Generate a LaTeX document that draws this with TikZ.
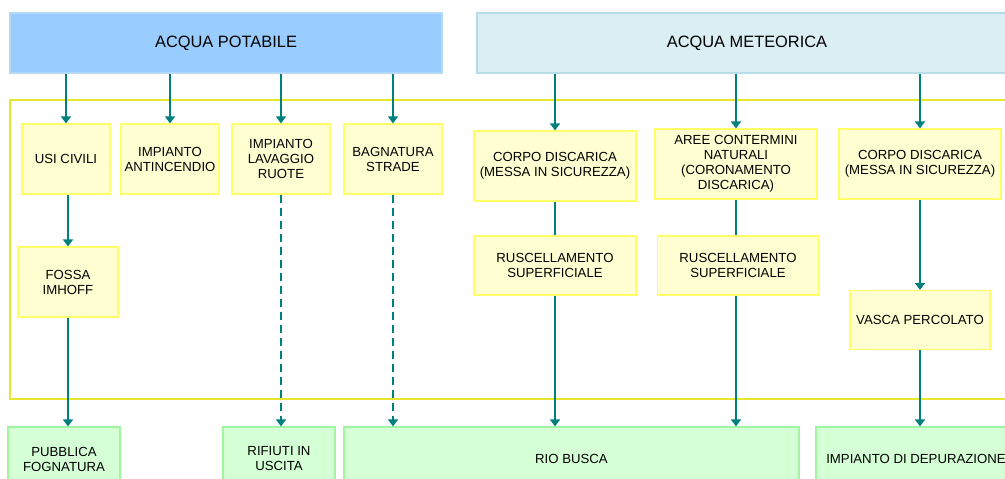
\documentclass[tikz,border=0pt]{standalone}
\usepackage{fontspec}
\setmainfont{Liberation Sans}
\usepackage{tikz}
\usetikzlibrary{arrows.meta}
\definecolor{potfill}{HTML}{99CCFF}
\definecolor{potline}{HTML}{B4DAF8}
\definecolor{metfill}{HTML}{DAEEF3}
\definecolor{metline}{HTML}{B7DEE8}
\definecolor{boxfill}{HTML}{FFFFD2}
\definecolor{boxline}{HTML}{FFFF66}
\definecolor{outfill}{HTML}{D5FFD5}
\definecolor{outdraw}{HTML}{A0F5A0}
\definecolor{frameline}{HTML}{E6E62E}
\definecolor{flowcol}{HTML}{007F7F}
\tikzset{
	source/.style={line width=1.2pt, align=center, inner sep=0pt, minimum height=60pt, font=\fontsize{16.4}{19}\selectfont},
	inbox/.style={draw=boxline, fill=boxfill, line width=1.2pt, align=center, inner sep=0pt, font=\fontsize{13.2}{15}\selectfont},
	outbox/.style={draw=outdraw, fill=outfill, line width=1.2pt, align=center, inner sep=0pt, minimum height=64pt, font=\fontsize{13.2}{15}\selectfont},
	flow/.style={draw=flowcol, line width=2pt},
	waste/.style={flow, dash pattern=on 8pt off 5pt}
}
\begin{document}
\begin{tikzpicture}[x=1pt, y=-1pt, >={Triangle[width=10pt,length=7pt]}]
	\clip (0,0) rectangle (1005,479);
	%\draw [help lines] (0,0) grid [step=50] (1005,479);
	\draw [frameline, line width=2pt] (10,100) rectangle (1020,399);
	% sorgenti
	\node [source, draw=potline, fill=potfill, minimum width=432pt] (pot) at (226,43) {ACQUA POTABILE};
	\node [source, draw=metline, fill=metfill, minimum width=540pt] (met) at (747,43) {ACQUA METEORICA};
	% utilizzi
	\node [inbox, minimum width=88pt, minimum height=70pt] (usi) at (66,159) {USI CIVILI};
	\node [inbox, minimum width=98pt, minimum height=70pt] (anti) at (170,159) {IMPIANTO\\ANTINCENDIO};
	\node [inbox, minimum width=98pt, minimum height=70pt] (lav) at (281,159) {IMPIANTO\\LAVAGGIO\\RUOTE};
	\node [inbox, minimum width=98pt, minimum height=70pt] (bagn) at (393,159) {BAGNATURA\\STRADE};
	\node [inbox, minimum width=162pt, minimum height=70pt] (corpoA) at (555,166) {CORPO DISCARICA\\(MESSA IN SICUREZZA)};
	\node [inbox, minimum width=162pt, minimum height=70pt] (aree) at (736,164) {AREE CONTERMINI\\NATURALI\\(CORONAMENTO\\DISCARICA)};
	\node [inbox, minimum width=162pt, minimum height=70pt] (corpoB) at (920,164) {CORPO DISCARICA\\(MESSA IN SICUREZZA)};
	\node [inbox, minimum width=100pt, minimum height=70pt] (fossa) at (68,282) {FOSSA\\IMHOFF};
	\node [inbox, minimum width=162pt, minimum height=59pt] (ruscA) at (555,265.5) {RUSCELLAMENTO\\SUPERFICIALE};
	\node [inbox, minimum width=161pt, minimum height=59pt] (ruscB) at (738,265.5) {RUSCELLAMENTO\\SUPERFICIALE};
	\node [inbox, minimum width=140pt, minimum height=59pt] (vasca) at (920,320) {VASCA PERCOLATO};
	% recapiti
	\node [outbox, minimum width=112pt] (fogna) at (64,459) {PUBBLICA\\FOGNATURA};
	\node [outbox, minimum width=112pt] (rifiuti) at (279,459) {RIFIUTI IN\\USCITA};
	\node [outbox, minimum width=455pt] (rio) at (571.5,459) {RIO BUSCA};
	\node [outbox, minimum width=200pt] (depur) at (916,459) {IMPIANTO DI DEPURAZIONE};
	% flussi
	\draw [->, flow] (usi |- pot.south) -- (usi.north);
	\draw [->, flow] (anti |- pot.south) -- (anti.north);
	\draw [->, flow] (lav |- pot.south) -- (lav.north);
	\draw [->, flow] (bagn |- pot.south) -- (bagn.north);
	\draw [->, flow] (corpoA |- met.south) -- (corpoA.north);
	\draw [->, flow] (aree |- met.south) -- (aree.north);
	\draw [->, flow] (corpoB |- met.south) -- (corpoB.north);
	\draw [->, flow] (fossa |- usi.south) -- (fossa.north);
	\draw [->, flow] (fossa) -- (fossa |- fogna.north);
	\draw [->, waste] (lav) -- (lav |- rifiuti.north);
	\draw [->, waste] (bagn) -- (bagn |- rio.north);
	\draw [flow] (corpoA) -- (ruscA);
	\draw [flow] (aree) -- (aree |- ruscB.north);
	\draw [->, flow] (ruscA) -- (ruscA |- rio.north);
	\draw [->, flow] (aree |- ruscB.south) -- (aree |- rio.north);
	\draw [->, flow] (corpoB) -- (vasca);
	\draw [->, flow] (vasca) -- (vasca |- depur.north);
\end{tikzpicture}
\end{document}
